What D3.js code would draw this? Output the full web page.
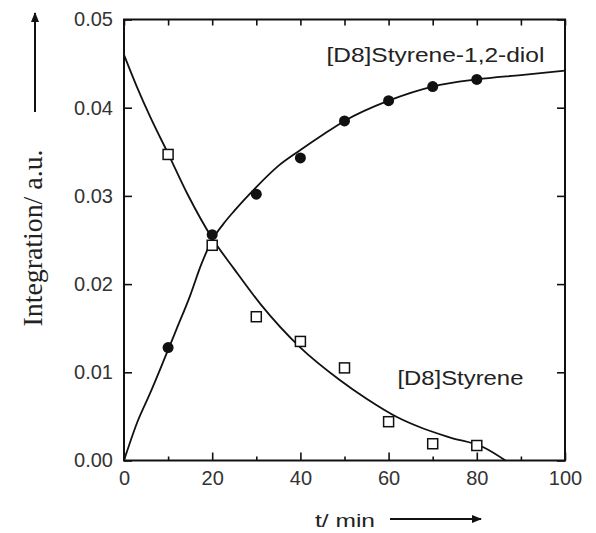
<!DOCTYPE html>
<html>
<head>
<meta charset="utf-8">
<script src="https://cdn.jsdelivr.net/npm/d3@7"></script>
<style>
	body { margin: 0; background: #fff; }
	svg { display: block; }
	.tick text { font-family: "Liberation Sans", Arial, sans-serif; font-size: 20px; fill: #333; }
	.label { font-family: "Liberation Sans", Arial, sans-serif; fill: #222; }
</style>
</head>
<body>
<div id="chart"></div>
<script>
// measured points
const times = [10, 20, 30, 40, 50, 60, 70, 80];
const styreneVals = [0.0347, 0.0244, 0.0163, 0.0135, 0.0105, 0.0044, 0.0019, 0.0017];
const diolVals = [0.0128, 0.0256, 0.0302, 0.0343, 0.0385, 0.0408, 0.0424, 0.0432];

// fitted curves
const styreneFitT = [0, 2.9, 6, 10, 14.5, 20, 25, 31, 40, 49, 55, 62, 68, 74, 81.5, 86.5];
const styreneFitV = [0.0460, 0.0424, 0.0389, 0.0348, 0.0301, 0.0252, 0.0217, 0.0177, 0.0128, 0.0091, 0.0070, 0.0049, 0.0036, 0.0026, 0.0015, 0.0000];
const diolFitT = [0, 2.9, 5.9, 8.9, 12, 15, 17.5, 20, 22.5, 25, 30, 35, 40, 45, 50, 60, 70, 80, 90, 100];
const diolFitV = [0, 0.0042, 0.0076, 0.0112, 0.0150, 0.0187, 0.0222, 0.0250, 0.0268, 0.0283, 0.0310, 0.0334, 0.0352, 0.0369, 0.0385, 0.0408, 0.0424, 0.0432, 0.0437, 0.0442];

const xMajor = [0, 20, 40, 60, 80, 100];
const xMinor = [10, 30, 50, 70, 90];
const yMajor = [0, 0.01, 0.02, 0.03, 0.04, 0.05];

const margin = { top: 19.5, right: 31, bottom: 72.5, left: 124 };
const W = 596, H = 533;
const width = W - margin.left - margin.right;
const height = H - margin.top - margin.bottom;

const svg = d3.select("#chart").append("svg")
	.attr("width", W)
	.attr("height", H);

const defs = svg.append("defs");
defs.append("marker")
	.attr("id", "arrow")
	.attr("viewBox", "0 0 10 10")
	.attr("refX", 9).attr("refY", 5)
	.attr("markerWidth", 5).attr("markerHeight", 5)
	.attr("markerUnits", "strokeWidth")
	.attr("orient", "auto")
	.append("path")
	.attr("d", "M0,1 L10,5 L0,9 Z")
	.attr("fill", "#111");

const g = svg.append("g")
	.attr("transform", `translate(${margin.left}, ${margin.top})`);

const x = d3.scaleLinear().domain([0, 100]).range([0, width]);
const y = d3.scaleLinear().domain([0, 0.05]).range([height, 0]);

// axes with inward ticks
const axisStyle = sel => {
	sel.select(".domain").remove();
	sel.selectAll(".tick line").attr("stroke", "#111").attr("stroke-width", 1.6);
};

g.append("g")
	.attr("transform", `translate(0, ${height})`)
	.call(d3.axisBottom(x).tickValues(xMajor).tickSizeInner(-8).tickPadding(10).tickFormat(d3.format("d")))
	.call(axisStyle);
g.append("g")
	.attr("transform", `translate(0, ${height})`)
	.call(d3.axisBottom(x).tickValues(xMinor).tickSizeInner(-4).tickFormat(""))
	.call(axisStyle);
g.append("g")
	.call(d3.axisTop(x).tickValues(xMajor.concat(xMinor)).tickSizeInner(-6).tickFormat(""))
	.call(axisStyle);
g.append("g")
	.call(d3.axisLeft(y).tickValues(yMajor).tickSizeInner(-8).tickPadding(11).tickFormat(d3.format(".2f")))
	.call(axisStyle);
g.append("g")
	.attr("transform", `translate(${width}, 0)`)
	.call(d3.axisRight(y).tickValues(yMajor).tickSizeInner(-8).tickFormat(""))
	.call(axisStyle);

// frame
g.append("rect")
	.attr("width", width)
	.attr("height", height)
	.attr("fill", "none")
	.attr("stroke", "#111")
	.attr("stroke-width", 2);

// fitted curves
const line = d3.line()
	.x(d => x(d[0]))
	.y(d => y(d[1]))
	.curve(d3.curveMonotoneX);

g.append("path")
	.datum(styreneFitT.map((t, i) => [t, styreneFitV[i]]))
	.attr("d", line)
	.attr("fill", "none")
	.attr("stroke", "#111")
	.attr("stroke-width", 1.8);

g.append("path")
	.datum(diolFitT.map((t, i) => [t, diolFitV[i]]))
	.attr("d", line)
	.attr("fill", "none")
	.attr("stroke", "#111")
	.attr("stroke-width", 1.8);

// markers
g.selectAll(".diol")
	.data(times.map((t, i) => [t, diolVals[i]]))
	.enter()
	.append("circle")
	.attr("class", "diol")
	.attr("cx", d => x(d[0]))
	.attr("cy", d => y(d[1]))
	.attr("r", 5.5)
	.attr("fill", "#111");

g.selectAll(".styrene")
	.data(times.map((t, i) => [t, styreneVals[i]]))
	.enter()
	.append("rect")
	.attr("class", "styrene")
	.attr("x", d => x(d[0]) - 5)
	.attr("y", d => y(d[1]) - 5)
	.attr("width", 10)
	.attr("height", 10)
	.attr("fill", "#fff")
	.attr("stroke", "#111")
	.attr("stroke-width", 1.5);

// series labels
g.append("text")
	.attr("class", "label")
	.attr("x", x(45.9))
	.attr("y", y(0.0452))
	.attr("font-size", 21)
	.attr("textLength", 218)
	.attr("lengthAdjust", "spacingAndGlyphs")
	.text("[D8]Styrene-1,2-diol");

g.append("text")
	.attr("class", "label")
	.attr("x", x(62))
	.attr("y", y(0.0086))
	.attr("font-size", 21)
	.attr("textLength", 126)
	.attr("lengthAdjust", "spacingAndGlyphs")
	.text("[D8]Styrene");

// axis titles with arrows
svg.append("text")
	.attr("class", "label")
	.attr("x", 315)
	.attr("y", 527)
	.attr("font-size", 19)
	.attr("textLength", 60)
	.attr("lengthAdjust", "spacingAndGlyphs")
	.text("t/ min");

svg.append("line")
	.attr("x1", 390).attr("y1", 519)
	.attr("x2", 481).attr("y2", 519)
	.attr("stroke", "#111")
	.attr("stroke-width", 2)
	.attr("marker-end", "url(#arrow)");

svg.append("text")
	.attr("transform", "translate(42, 238) rotate(-90)")
	.attr("text-anchor", "middle")
	.attr("font-family", "'Liberation Serif', 'Times New Roman', serif")
	.attr("font-size", 27)
	.attr("fill", "#222")
	.attr("textLength", 177)
	.attr("lengthAdjust", "spacingAndGlyphs")
	.text("Integration/ a.u.");

svg.append("line")
	.attr("x1", 35).attr("y1", 112)
	.attr("x2", 35).attr("y2", 13)
	.attr("stroke", "#111")
	.attr("stroke-width", 2)
	.attr("marker-end", "url(#arrow)");
</script>
</body>
</html>
